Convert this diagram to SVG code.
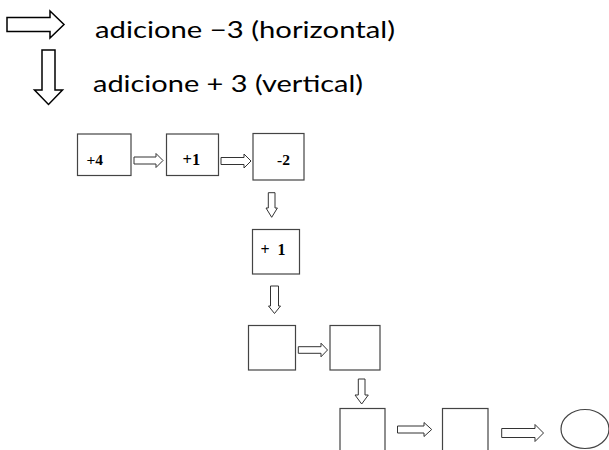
<svg xmlns="http://www.w3.org/2000/svg" width="609" height="450" viewBox="0 0 609 450">
<style>
.big{fill:#fff;stroke:#000;stroke-width:1.5;stroke-linejoin:miter}
.sm{fill:#fff;stroke:#333;stroke-width:1}
.box{fill:#fff;stroke:#444;stroke-width:1.2}
.leg{font-family:Lato,"Open Sans",sans-serif;font-size:23px;fill:#000}
.num{font-family:"Liberation Serif",serif;font-weight:bold;fill:#000}
</style>
<rect width="609" height="450" fill="#fff"/>
<g id="legend">
<polygon class="big" points="7,17.5 50,17.5 50,11 64,24.5 50,38 50,31.5 7,31.5"/>
<text class="leg" x="95" y="37.5" textLength="300" lengthAdjust="spacingAndGlyphs">adicione −3 (horizontal)</text>
<polygon class="big" points="42,50 55,50 55,90 62.5,90 48.5,104.5 34.5,90 42,90"/>
<text class="leg" x="93" y="91.5" textLength="270" lengthAdjust="spacingAndGlyphs">adicione + 3 (vertical)</text>
</g>
<g id="n1"><rect class="box" x="77.5" y="134" width="53.5" height="41.5"/><text class="num" x="86.5" y="164.5" font-size="15.5">+4</text></g>
<g id="n2"><rect class="box" x="166.5" y="134" width="52" height="41.5"/><text class="num" x="182.5" y="164.5" font-size="16.5">+1</text></g>
<g id="n3"><rect class="box" x="253" y="133.5" width="51" height="46.5"/><text class="num" x="277" y="165" font-size="15.5">-2</text></g>
<g id="n4"><rect class="box" x="252.5" y="229.5" width="47" height="44.5"/><text class="num" x="260.5" y="254.5" font-size="16" textLength="25">+ 1</text></g>
<g id="n5"><rect class="box" x="248.5" y="325.5" width="47" height="44.5"/></g>
<g id="n6"><rect class="box" x="330" y="325.5" width="50" height="44.5"/></g>
<g id="n7"><rect class="box" x="340" y="408.5" width="45" height="46"/></g>
<g id="n8"><rect class="box" x="442.5" y="408.5" width="45.5" height="46"/></g>
<g id="n9"><ellipse class="box" cx="585" cy="429" rx="24" ry="19.5"/></g>
<g id="connectors">
<polygon class="sm" points="134,157 156,157 156,153.5 163,160.5 156,167.5 156,164 134,164"/>
<polygon class="sm" points="221,157.5 244,157.5 244,154 251,161 244,168 244,164.5 221,164.5"/>
<polygon class="sm" points="268.3,192.7 275,192.7 275,208 277.4,208 271.7,217.3 266,208 268.3,208"/>
<polygon class="sm" points="270.5,286 278.5,286 278.5,306 280.5,306 274.5,313.5 268.5,306 270.5,306"/>
<polygon class="sm" points="298.3,346.7 321,346.7 321,343.2 327.5,350 321,356.8 321,353.3 298.3,353.3"/>
<polygon class="sm" points="358.3,379 365,379 365,395 368.3,395 361.7,404 355,395 358.3,395"/>
<polygon class="sm" points="397.5,426 424,426 424,422.5 431.7,429.5 424,436.5 424,433 397.5,433"/>
<polygon class="sm" points="501.7,428.5 535,428.5 535,424.5 543.5,433 535,441.5 535,437.5 501.7,437.5"/>
</g>
</svg>
